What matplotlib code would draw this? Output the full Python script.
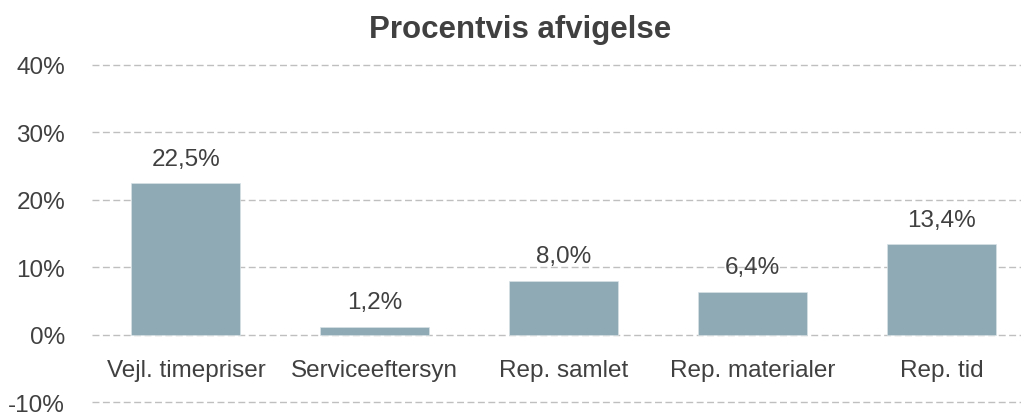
import matplotlib
matplotlib.use("Agg")
import matplotlib.pyplot as plt

categories = ["Vejl. timepriser", "Serviceeftersyn", "Rep. samlet", "Rep. materialer", "Rep. tid"]
values = [22.5, 1.2, 8.0, 6.4, 13.4]
yticks = [-10, 0, 10, 20, 30, 40]

plt.rcParams['font.family'] = ['Liberation Sans', 'DejaVu Sans']
txt = '#404040'
bar_color = '#8FAAB5'
fs = 17.5

fig = plt.figure(figsize=(10.21, 4.14), dpi=100)
ax = fig.add_axes([91.5/1021, 10.8/414, (1036-91.5)/1021, (403.2-65.7)/414])

x = list(range(len(categories)))
ax.bar(x, values, width=0.577, color=bar_color, zorder=3, edgecolor='#d8e2e6', linewidth=0.5)

ax.set_xlim(-0.5, len(categories) - 0.5)
ax.set_ylim(-10, 40)
ax.set_yticks(yticks)
ax.set_yticklabels([f"{t}%" for t in yticks], fontsize=fs, color=txt)
ax.tick_params(axis='y', length=0, pad=19)
ax.set_xticks([])
for s in ax.spines.values():
    s.set_visible(False)
ax.yaxis.grid(True, color='#BFBFBF', linestyle=(0, (5, 2.5)), linewidth=1.0, zorder=0)
for gl in ax.get_ygridlines():
    gl.set_clip_on(False)
ax.set_axisbelow(True)

for i, (c, v) in enumerate(zip(categories, values)):
    ax.annotate(f"{v:.1f}".replace('.', ',') + '%', (i, v), xytext=(0, 17.5),
                textcoords='offset points', ha='center', va='center',
                fontsize=fs, color=txt)
    ax.text(i, -5.3, c, ha='center', va='center', fontsize=fs, color=txt)

fig.text(520/1021, 1 - 30/414, "Procentvis afvigelse", ha='center', va='center',
         fontsize=22.5, fontweight='bold', color=txt)

fig.savefig("out.png", dpi=100)
